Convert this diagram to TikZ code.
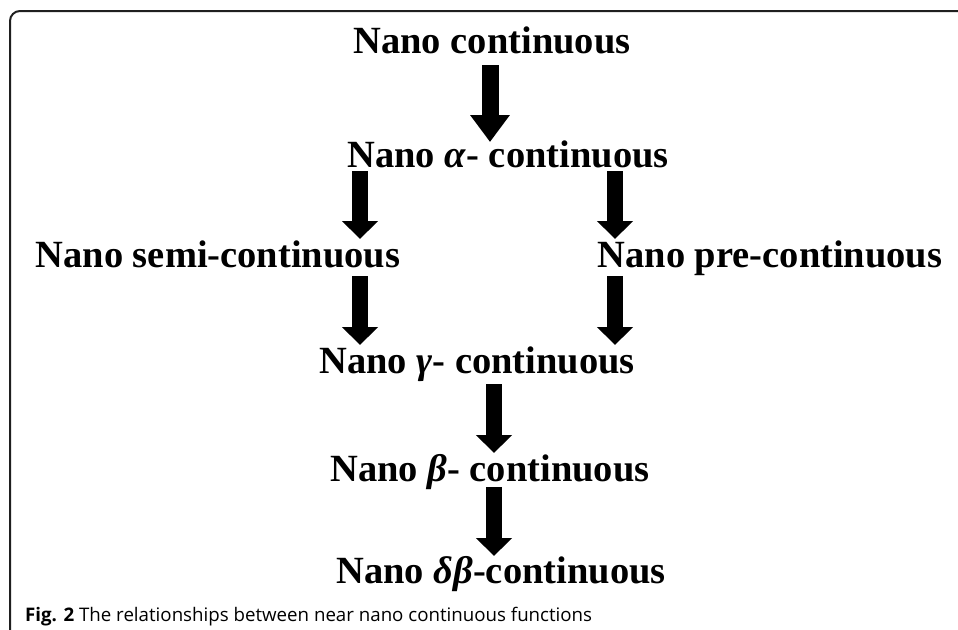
\documentclass[tikz,border=0pt]{standalone}
\usepackage{fontspec}
\setmainfont{Liberation Serif}
\newfontfamily\capfont{Open Sans}
\usetikzlibrary{arrows.meta}
\begin{document}
\begin{tikzpicture}[x=1pt,y=-1pt,
  lbl/.style={anchor=base, inner sep=0pt, font=\fontsize{38.5}{40}\selectfont\bfseries},
  bigarrow/.style={line width=16pt, -{Triangle[width=35pt,length=18pt]}},
  toparrow/.style={line width=17pt, -{Triangle[width=38pt,length=27pt]}},
  frame/.style={line width=2pt, draw=black!88, rounded corners=10pt},
]
\useasboundingbox (0,0) rectangle (958,629);
\draw[frame] (10,640) -- (10,11) -- (975,11);

\node[lbl] (n1) at (492,53) {Nano continuous};
\node[lbl] (n2) at (508,167) {Nano \textit{α}- continuous};
\node[lbl] (n3) at (218,267) {Nano semi-continuous};
\node[lbl] (n4) at (770,267) {Nano pre-continuous};
\node[lbl] (n5) at (477,373) {Nano \textit{γ}- continuous};
\node[lbl] (n6) at (490,481) {Nano \textit{β}- continuous};
\node[lbl] (n7) at (501,583) {Nano \textit{δβ}-continuous};

\coordinate (a1s) at (490,65);  \coordinate (a1e) at (490,142);
\coordinate (a2s) at (360,171); \coordinate (a2e) at (360,239);
\coordinate (a3s) at (615,171); \coordinate (a3e) at (615,239);
\coordinate (a4s) at (360,276); \coordinate (a4e) at (360,345);
\coordinate (a5s) at (615,276); \coordinate (a5e) at (615,345);
\coordinate (a6s) at (494,384); \coordinate (a6e) at (494,453);
\coordinate (a7s) at (494,487); \coordinate (a7e) at (494,556);

\draw[toparrow] (a1s) -- (a1e);
\draw[bigarrow] (a2s) -- (a2e);
\draw[bigarrow] (a3s) -- (a3e);
\draw[bigarrow] (a4s) -- (a4e);
\draw[bigarrow] (a5s) -- (a5e);
\draw[bigarrow] (a6s) -- (a6e);
\draw[bigarrow] (a7s) -- (a7e);

\node[anchor=base west, inner sep=0pt, font=\capfont\fontsize{18.7}{22}\selectfont] (cap) at (25,621)
  {\textbf{Fig. 2} The relationships between near nano continuous functions};
\end{tikzpicture}
\end{document}
